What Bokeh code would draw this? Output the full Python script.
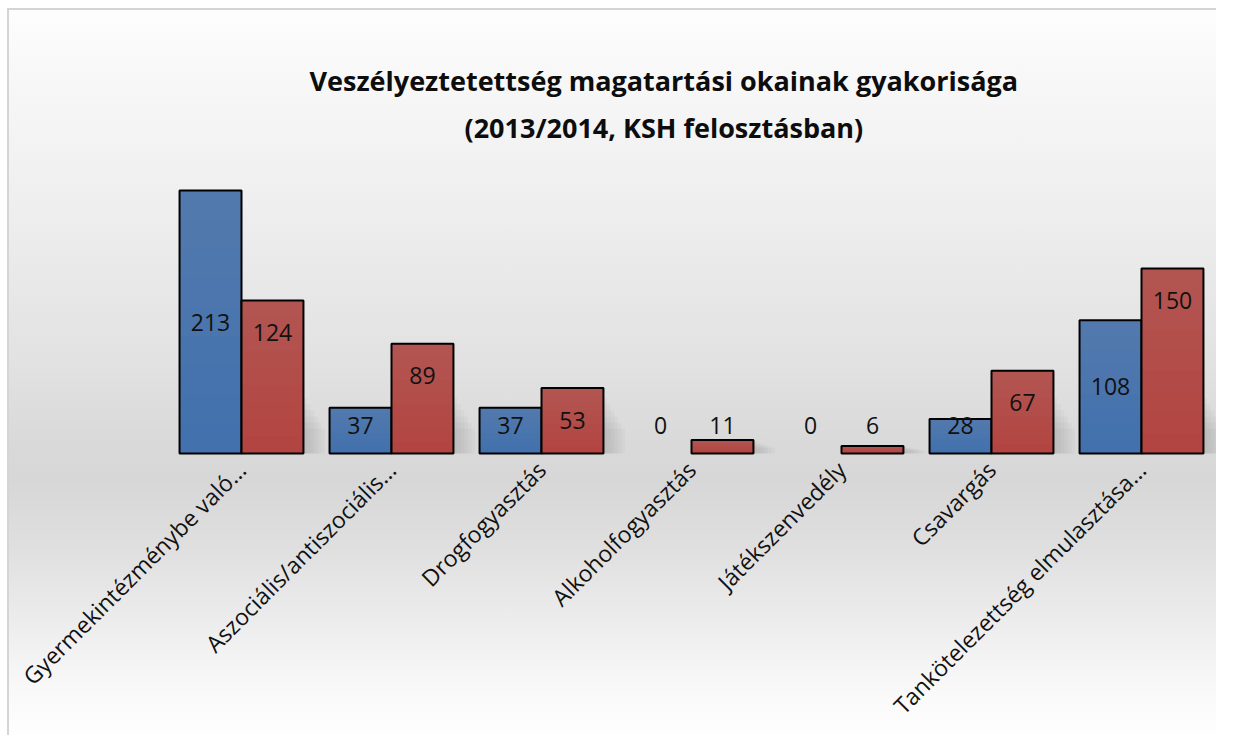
import math
from bokeh.plotting import figure
from bokeh.models import Range1d, FixedTicker, Title, ColumnDataSource
from bokeh.core.properties import value
from bokeh.embed import file_html
from bokeh.resources import INLINE

# ---- data ----
categories = [
    "Gyermekintézménybe való...",
    "Aszociális/antiszociális...",
    "Drogfogyasztás",
    "Alkoholfogyasztás",
    "Játékszenvedély",
    "Csavargás",
    "Tankötelezettség elmulasztása...",
]
series_blue = [213, 37, 37, 0, 0, 28, 108]
series_red = [124, 89, 53, 11, 6, 67, 150]
title_lines = [
    "Veszélyeztetettség magatartási okainak gyakorisága",
    "(2013/2014, KSH felosztásban)",
]

FONT = "Open Sans"
BW = 0.413

xs = list(range(len(categories)))
x_blue = [i - BW / 2 for i in xs]
x_red = [i + BW / 2 for i in xs]

p = figure(
    width=1209, height=727,
    x_range=Range1d(-0.5, 6.5), y_range=Range1d(-1.6, 245.5),
    output_backend="svg", toolbar_location=None, title=None,
    y_axis_location=None,
    min_border_left=157, min_border_right=2,
    min_border_top=140, min_border_bottom=282,
    background_fill_color=None, border_fill_color=None,
    outline_line_color=None,
)
p.styles = {
    "background": "linear-gradient(to bottom, #fdfdfd 0%, #f6f6f6 12%, #efefef 26%, #e2e2e2 48%, #d9d9d9 60%, #d7d7d7 65%, #dfdfdf 74%, #ececec 84%, #f8f8f8 93%, #fefefe 100%)",
    "border-left": "2px solid #d4d4d4",
    "border-top": "2px solid #d4d4d4",
    "margin-left": "7px",
    "margin-top": "8px",
}
p.xgrid.visible = False
p.ygrid.visible = False

# soft shadows to the right of each group
for j in range(1, 7):
    p.quad(
        left=[i + BW for i in xs],
        right=[i + BW + 0.024 * j for i in xs],
        bottom=[0] * len(xs),
        top=[min(v, 50) * (1 - 0.1 * j) for v in series_red],
        fill_color="#6f6f6f", fill_alpha=0.05, line_color=None,
    )

def bars(xpos, vals, dark):
    src = ColumnDataSource(dict(
        x=xpos, top=vals,
        la=[1 if v > 0 else 0 for v in vals],
    ))
    p.vbar(x="x", top="top", bottom=0, width=BW, source=src,
           fill_color=dark, line_color=None)
    n = 9
    for k in range(n):
        p.vbar(x=xpos, top=vals, bottom=[v * k / n for v in vals], width=BW,
               fill_color="white", fill_alpha=0.012, line_color=None)
    p.vbar(x="x", top="top", bottom=0, width=BW, source=src,
           fill_color=None, line_color="black", line_width=2, line_alpha="la")

bars(x_blue, series_blue, "#4070ad")
bars(x_red, series_red, "#b2433f")

label_y_blue = [max(v / 2, 23) for v in series_blue]
label_y_red = [max(v - 26, 23) for v in series_red]
for xpos, ys, vals in ((x_blue, label_y_blue, series_blue), (x_red, label_y_red, series_red)):
    p.text(x=xpos, y=ys, text=[str(v) for v in vals],
           text_align="center", text_baseline="middle",
           text_font=value(FONT), text_font_size="23px", text_color="#111111")

ax = p.xaxis[0]
ax.ticker = FixedTicker(ticks=xs)
ax.major_label_overrides = {i: c for i, c in zip(xs, categories)}
ax.major_label_orientation = math.pi / 4
ax.axis_line_color = None
ax.major_tick_line_color = None
ax.minor_tick_line_color = None
ax.major_label_text_font = FONT
ax.major_label_text_font_size = "23px"
ax.major_label_text_color = "#111111"
ax.major_label_standoff = 4

# second line first (closest to the frame), then the first line above it
p.add_layout(Title(text=title_lines[1], align="left", offset=298,
                   text_font=FONT, text_font_size="27px",
                   text_font_style="bold", text_color="#0d0d0d",
                   standoff=10), "above")
p.add_layout(Title(text=title_lines[0], align="left", offset=143,
                   text_font=FONT, text_font_size="27px",
                   text_font_style="bold", text_color="#0d0d0d",
                   standoff=6), "above")

open("out.html", "w").write(file_html(p, INLINE))
